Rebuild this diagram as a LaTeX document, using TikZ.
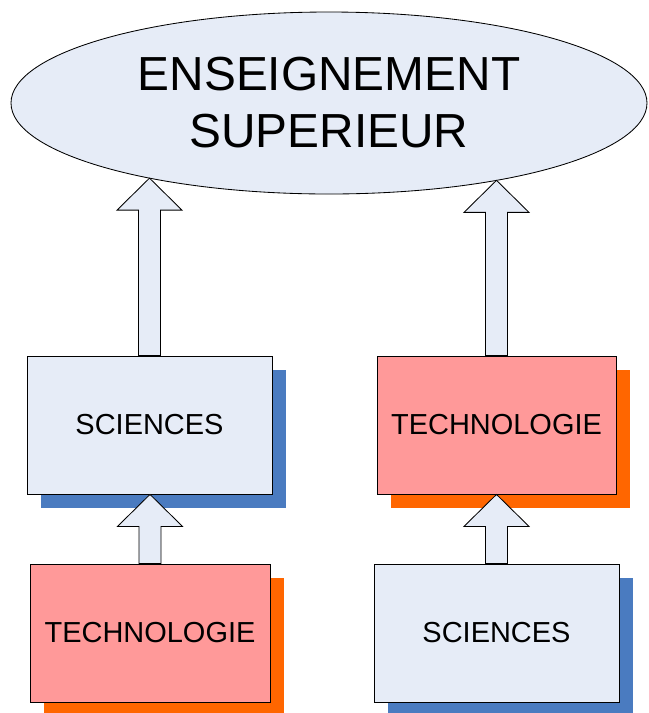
\documentclass[tikz,border=0pt]{standalone}
\usepackage{fontspec}
\setmainfont{Liberation Sans}
\usetikzlibrary{shapes.geometric,shadows,calc,intersections}

\definecolor{paleblue}{HTML}{E6ECF7}
\definecolor{rosepink}{HTML}{FF9999}
\definecolor{shadeblue}{HTML}{4A7BC0}
\definecolor{shadeorange}{HTML}{FF6600}

\tikzset{
    bigoval/.style={ellipse, draw, line width=0.6pt, fill=paleblue, inner sep=0pt,
        minimum width=15.9cm, minimum height=4.55cm, align=center,
        font=\fontsize{34}{40.5}\selectfont},
    boxsci/.style={draw, line width=0.6pt, fill=paleblue, minimum height=3.45cm,
        font=\fontsize{20.6}{24}\selectfont,
        drop shadow={shadow xshift=0.35cm, shadow yshift=-0.35cm, fill=shadeblue, opacity=1}},
    boxtech/.style={draw, line width=0.6pt, fill=rosepink, minimum height=3.45cm,
        font=\fontsize{20.6}{24}\selectfont,
        drop shadow={shadow xshift=0.35cm, shadow yshift=-0.35cm, fill=shadeorange, opacity=1}},
    arrowfill/.style={draw, line width=0.6pt, fill=paleblue, line join=miter}
}

% block arrow: #1 foot (on a box), #2 tip
\newcommand{\blockarrow}[2]{%
    \path[arrowfill] let \p1=(#1), \p2=(#2) in
        (\x1-0.275cm,\y1) -- (\x1-0.275cm,\y2-0.8cm) -- (\x1-0.8125cm,\y2-0.8cm)
        -- (\x1,\y2) -- (\x1+0.8125cm,\y2-0.8cm) -- (\x1+0.275cm,\y2-0.8cm)
        -- (\x1+0.275cm,\y1) -- cycle;}

\begin{document}
\begin{tikzpicture}
    \useasboundingbox (0,0) rectangle (16.225,-17.825);

    \node(ens) [bigoval, name path=ens] at (8.225,-2.575) {ENSEIGNEMENT\\SUPERIEUR};

    % upper row
    \node(sci-up) [boxsci, minimum width=6.125cm] at (3.7375,-10.625) {SCIENCES};
    \node(tech-up) [boxtech, minimum width=5.975cm] at (12.4125,-10.625) {TECHNOLOGIE};

    % lower row
    \node(tech-low) [boxtech, minimum width=6cm] at (3.75,-15.825) {TECHNOLOGIE};
    \node(sci-low) [boxsci, minimum width=6.125cm] at (12.4125,-15.825) {SCIENCES};

    % tips on the oval
    \path[name path=upleft] (sci-up.north) -- (sci-up.north |- ens.center);
    \path[name path=upright] (tech-up.north) -- (tech-up.north |- ens.center);
    \path[name intersections={of=ens and upleft, by=tip-left}];
    \path[name intersections={of=ens and upright, by=tip-right}];

    % Draw Arrows
    \blockarrow{sci-up.north}{tip-left}
    \blockarrow{tech-up.north}{tip-right}
    \blockarrow{tech-low.north}{sci-up.south}
    \blockarrow{sci-low.north}{tech-up.south}

\end{tikzpicture}
\end{document}
